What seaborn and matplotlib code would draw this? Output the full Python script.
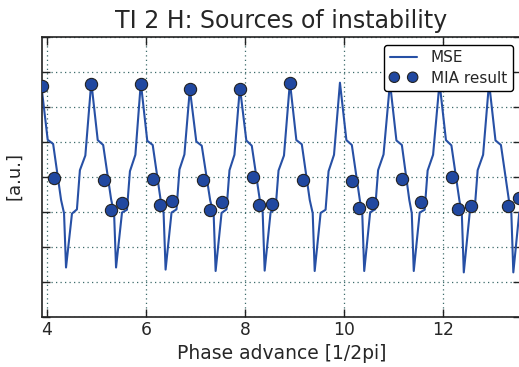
import matplotlib
matplotlib.use("Agg")
import matplotlib.pyplot as plt
import seaborn as sns

# MSE curve (phase advance in units of 1/2pi, arbitrary amplitude)
mse_phase = [
    3.89, 4.02, 4.13, 4.29, 4.35, 4.39, 4.51, 4.61, 4.67, 4.78,
    4.90, 5.03, 5.14, 5.30, 5.36, 5.40, 5.52, 5.62, 5.68, 5.79,
    5.90, 6.03, 6.14, 6.30, 6.36, 6.40, 6.52, 6.62, 6.68, 6.78,
    6.89, 7.02, 7.13, 7.30, 7.37, 7.41, 7.53, 7.63, 7.69, 7.79,
    7.90, 8.03, 8.14, 8.30, 8.36, 8.40, 8.52, 8.62, 8.68, 8.79,
    8.91, 9.04, 9.15, 9.31, 9.37, 9.41, 9.53, 9.63, 9.69, 9.80,
    9.92, 10.05, 10.16, 10.32, 10.37, 10.41, 10.53, 10.63, 10.69, 10.80,
    10.93, 11.06, 11.17, 11.32, 11.37, 11.41, 11.53, 11.63, 11.69, 11.80,
    11.93, 12.06, 12.17, 12.33, 12.38, 12.42, 12.54, 12.64, 12.70, 12.81,
    12.93, 13.06, 13.17, 13.33, 13.38, 13.42, 13.54, 13.64,
]
mse_value = [
    6.62, 5.05, 4.93, 3.33, 2.95, 1.40, 2.94, 3.06, 4.18, 4.60,
    6.70, 5.04, 4.90, 3.35, 2.96, 1.40, 2.97, 3.05, 4.15, 4.62,
    6.68, 5.02, 4.90, 3.33, 2.95, 1.34, 2.97, 3.06, 4.20, 4.63,
    6.50, 5.00, 4.88, 3.32, 2.94, 1.30, 2.96, 3.06, 4.18, 4.62,
    6.55, 5.03, 4.88, 3.35, 2.97, 1.31, 2.98, 3.07, 4.17, 4.60,
    6.70, 5.04, 4.92, 3.33, 2.95, 1.30, 2.96, 3.05, 4.15, 4.62,
    6.68, 5.04, 4.90, 3.34, 2.96, 1.30, 2.98, 3.06, 4.18, 4.63,
    6.68, 5.03, 4.90, 3.33, 2.95, 1.30, 2.97, 3.05, 4.17, 4.62,
    6.68, 5.04, 4.89, 3.33, 2.95, 1.26, 2.97, 3.06, 4.18, 4.62,
    6.68, 5.03, 4.90, 3.33, 2.95, 1.26, 2.97, 3.06,
]

# MIA result points
mia_phase = [
    3.91, 4.14, 4.90, 5.15, 5.29, 5.53, 5.90, 6.15, 6.29, 6.53,
    6.89, 7.16, 7.29, 7.54, 7.90, 8.17, 8.28, 8.55, 8.91, 9.17,
    10.17, 10.30, 10.56, 11.17, 11.56, 12.18, 12.31, 12.56, 13.32, 13.54,
]
mia_value = [
    6.58, 3.96, 6.65, 3.91, 3.05, 3.23, 6.65, 3.93, 3.18, 3.29,
    6.49, 3.91, 3.04, 3.28, 6.51, 3.98, 3.18, 3.21, 6.66, 3.89,
    3.86, 3.11, 3.25, 3.93, 3.28, 3.98, 3.06, 3.15, 3.15, 3.40,
]

x_ticks = [4, 6, 8, 10, 12]
y_ticks = [0, 1, 2, 3, 4, 5, 6, 7, 8]

sns.set_style("ticks")
plt.rcParams['font.family'] = ['DejaVu Sans']

fig = plt.figure(figsize=(5.19, 3.67), dpi=100)
ax = fig.add_axes([42 / 519, 1 - 316.5 / 367, (521 - 42) / 519, 280 / 367])

line_col = "#2750a5"
dot_col = "#2148a0"

sns.lineplot(x=mse_phase, y=mse_value, ax=ax, color=line_col, lw=1.5,
             sort=False, label="MSE", zorder=2)
sns.scatterplot(x=mia_phase, y=mia_value, ax=ax, color=dot_col, s=78,
                edgecolor="#222222", linewidth=0.8, label="MIA result",
                zorder=3)

ax.set_xlim(3.905, 13.575)
ax.set_ylim(0, 8)
ax.set_xticks(x_ticks)
ax.set_yticks(y_ticks)
ax.set_yticklabels([])
ax.grid(True, linestyle=(0, (1, 2.6)), color="#3d6b6b", lw=0.9)
ax.tick_params(direction="in", top=True, right=True, length=6, width=1,
               color="#222222", labelsize=12.3, labelcolor="#262626")
for sp in ax.spines.values():
    sp.set_color("#222222")
    sp.set_linewidth(1.2)

ax.set_title("TI 2 H: Sources of instability", fontsize=17, color="#262626")
ax.set_xlabel("Phase advance [1/2pi]", fontsize=13.5, color="#262626", labelpad=3)
ax.set_ylabel("[a.u.]", fontsize=13, color="#262626", labelpad=10)

leg = ax.legend(loc="upper right", fontsize=11, scatterpoints=2,
                scatteryoffsets=[0.5, 0.5], handlelength=1.8,
                handletextpad=0.9, borderaxespad=0.55, fancybox=True,
                framealpha=1, edgecolor="black", borderpad=0.35,
                labelspacing=0.35, markerscale=0.85)
leg.get_frame().set_linewidth(1.0)

fig.savefig("out.png", dpi=100)
